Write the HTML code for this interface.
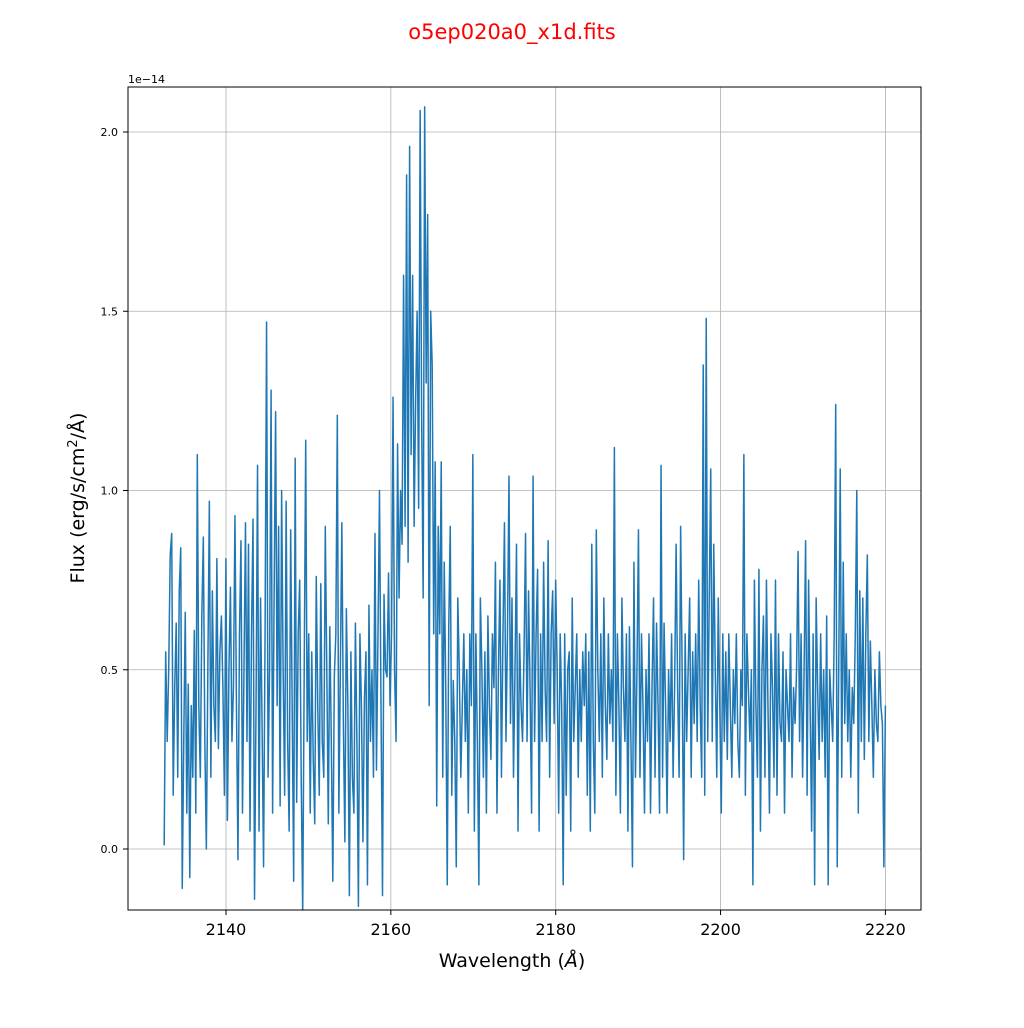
<!DOCTYPE html>
<html><head><meta charset="utf-8"><style>
body{margin:0;background:#fff;font-family:"DejaVu Sans","Liberation Sans",sans-serif}
</style></head><body>
<svg id="chart" width="1024" height="1024" xmlns="http://www.w3.org/2000/svg" font-family="DejaVu Sans, Liberation Sans, sans-serif">
<rect width="1024" height="1024" fill="#fff"/>
<text x="512" y="39" text-anchor="middle" font-size="21" fill="#ff0000">o5ep020a0_x1d.fits</text>
<defs><clipPath id="clip"><rect x="128" y="87" width="793" height="823"/></clipPath></defs>
<g id="grid"></g>
<g id="ticks"></g>
<path id="series" fill="none" stroke="#1f77b4" stroke-width="1.5" stroke-linejoin="round" clip-path="url(#clip)"/>
<rect x="128" y="87" width="793" height="823" fill="none" stroke="#000" stroke-width="1"/>
<text x="128" y="83" font-size="11">1e−14</text>
<text x="512" y="967" text-anchor="middle" font-size="19">Wavelength (<tspan font-style="italic">Å</tspan>)</text>
<text transform="translate(84,498) rotate(-90)" text-anchor="middle" font-size="19">Flux (erg/s/cm<tspan dy="-7" font-size="13">2</tspan><tspan dy="7">/Å)</tspan></text>
</svg>
<script>
const xTicks=[2140,2160,2180,2200,2220];
const yTicks=[0.0,0.5,1.0,1.5,2.0];
const yTickLabels=["0.0","0.5","1.0","1.5","2.0"];
const waveStart=2132.5, waveEnd=2220.0;
const flux=[
0.01,0.55,0.3,0.5,0.82,0.88,0.15,0.45,0.63,0.2,0.72,0.84,-0.11,0.3,0.66,0.1,0.46,-0.08,0.4,0.2,
0.61,0.1,1.1,0.4,0.2,0.65,0.87,0.3,0.0,0.5,0.97,0.2,0.72,0.4,0.3,0.81,0.28,0.55,0.65,0.45,
0.15,0.81,0.08,0.5,0.73,0.3,0.45,0.93,0.4,-0.03,0.6,0.86,0.1,0.5,0.91,0.3,0.85,0.05,0.6,0.92,
-0.14,0.4,1.07,0.05,0.7,0.35,-0.05,0.6,1.47,0.2,0.5,1.28,0.1,0.7,1.22,0.4,0.9,0.12,1.0,0.5,
0.15,0.97,0.3,0.05,0.89,0.4,-0.09,1.09,0.13,0.6,0.75,0.2,-0.18,0.5,1.14,0.3,0.6,0.1,0.55,0.25,
0.07,0.76,0.4,0.15,0.74,0.3,0.2,0.9,0.5,0.07,0.62,0.3,-0.09,0.48,0.6,1.21,0.1,0.5,0.91,0.35,
0.02,0.67,0.4,-0.13,0.55,0.2,0.1,0.63,0.3,-0.16,0.6,0.4,0.02,0.42,0.55,-0.1,0.68,0.3,0.5,0.2,
0.88,0.22,0.6,1.0,0.4,-0.13,0.71,0.5,0.48,0.77,0.4,0.6,1.26,0.5,0.3,1.13,0.7,1.0,0.85,1.6,
0.9,1.88,0.8,1.96,1.1,1.6,0.9,1.25,1.5,0.95,2.06,1.2,0.7,2.07,1.3,1.77,0.4,1.5,1.35,0.6,
1.08,0.12,0.9,0.6,1.08,0.2,0.8,0.45,-0.1,0.62,0.9,0.15,0.47,0.3,-0.05,0.7,0.5,0.2,0.4,0.6,
0.3,0.5,0.1,0.6,0.4,1.1,0.05,0.6,0.3,-0.1,0.7,0.5,0.2,0.55,0.1,0.65,0.4,0.25,0.6,0.45,
0.8,0.1,0.5,0.75,0.2,0.6,0.91,0.3,0.6,1.04,0.35,0.7,0.2,0.5,0.85,0.05,0.6,0.4,0.3,0.55,
0.88,0.3,0.72,0.45,0.1,1.04,0.3,0.6,0.78,0.05,0.6,0.3,0.8,0.45,0.3,0.86,0.2,0.6,0.72,0.35,
0.75,0.5,0.1,0.6,0.4,-0.1,0.6,0.15,0.5,0.55,0.05,0.7,0.3,0.45,0.6,0.2,0.5,0.3,0.55,0.4,
0.6,0.15,0.55,0.05,0.85,0.3,0.1,0.89,0.5,0.3,0.6,0.2,0.7,0.4,0.25,0.6,0.35,0.5,0.3,1.12,
0.15,0.6,0.4,0.1,0.7,0.45,0.3,0.6,0.05,0.62,0.3,-0.05,0.8,0.2,0.5,0.89,0.2,0.6,0.4,0.1,
0.5,0.3,0.6,0.1,0.45,0.7,0.2,0.63,0.4,0.1,1.07,0.2,0.63,0.4,0.1,0.5,0.3,0.6,0.2,0.45,
0.85,0.45,0.2,0.9,0.5,-0.03,0.6,0.3,0.5,0.7,0.2,0.55,0.35,0.6,0.3,0.75,0.4,0.2,1.35,0.15,
1.48,0.3,0.7,1.06,0.3,0.85,0.5,0.2,0.7,0.4,0.1,0.6,0.3,0.55,0.25,0.6,0.4,0.2,0.5,0.35,
0.6,0.3,0.2,0.5,0.4,1.1,0.15,0.6,0.45,0.3,0.5,-0.1,0.75,0.4,0.2,0.78,0.05,0.5,0.65,0.2,
0.75,0.4,0.1,0.6,0.45,0.2,0.75,0.15,0.6,0.35,0.3,0.55,0.1,0.5,0.4,0.3,0.6,0.2,0.45,0.35,
0.5,0.83,0.3,0.6,0.2,0.5,0.86,0.15,0.75,0.4,0.05,0.6,-0.1,0.7,0.45,0.25,0.6,0.3,0.5,0.2,
0.65,-0.1,0.5,0.4,0.3,0.6,1.24,-0.05,0.5,1.06,0.2,0.8,0.35,0.6,0.3,0.5,0.2,0.45,0.35,0.6,
1.0,0.1,0.72,0.3,0.7,0.25,0.6,0.82,0.3,0.58,0.4,0.2,0.5,0.35,0.3,0.55,0.4,0.35,-0.05,0.4];
const X=v=>226+(v-2140)*(659.4/80);
const Y=v=>849-v*358.5;
const NS="http://www.w3.org/2000/svg";
const grid=document.getElementById('grid'), ticks=document.getElementById('ticks');
function mk(tag,attrs,parent){const e=document.createElementNS(NS,tag);for(const k in attrs)e.setAttribute(k,attrs[k]);parent.appendChild(e);return e;}
xTicks.forEach(t=>{
 const g=mk('line',{x1:X(t),x2:X(t),y1:87,y2:910,stroke:'#b0b0b0','stroke-width':0.8},grid);
 
 
 mk('line',{x1:X(t),x2:X(t),y1:910,y2:915,stroke:'#000'},ticks);
 const l=mk('text',{x:X(t),y:935,'text-anchor':'middle','font-size':16},ticks);
 l.textContent=t;
 
 
});
yTicks.forEach((t,i)=>{
 const g=mk('line',{x1:128,x2:921,y1:Y(t),y2:Y(t),stroke:'#b0b0b0','stroke-width':0.8},grid);
 
 
 mk('line',{x1:123,x2:128,y1:Y(t),y2:Y(t),stroke:'#000'},ticks);
 const l=mk('text',{x:118,y:Y(t)+4,'text-anchor':'end','font-size':11},ticks);
 l.textContent=yTickLabels[i];
 
 
});
const step=(waveEnd-waveStart)/(flux.length-1);
let d='';
flux.forEach((v,i)=>{d+=(i?'L':'M')+X(waveStart+i*step).toFixed(2)+','+Y(v).toFixed(2);});
document.getElementById('series').setAttribute('d',d);
</script>
</body></html>
